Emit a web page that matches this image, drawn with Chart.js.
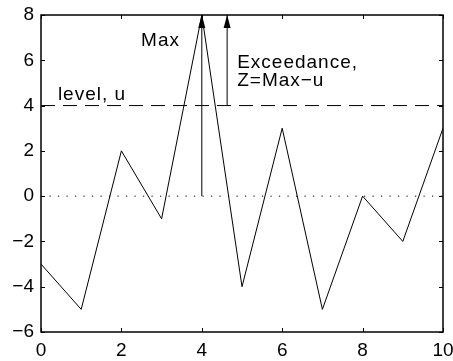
<!DOCTYPE html>
<html>
<head>
<meta charset="utf-8">
<script src="https://cdn.jsdelivr.net/npm/chart.js@4/dist/chart.umd.min.js"></script>
<style>
  body { margin: 0; background: #fff; }
  canvas { display: block; }
</style>
</head>
<body>
<canvas id="chart" width="453" height="361"></canvas>
<script>
// series
const xValues = [0, 1, 2, 3, 4, 5, 6, 7, 8, 9, 10];
const yValues = [-3, -5, 2, -1, 8, -4, 3, -5, 0, -2, 3];
const levelU = 4;
const maxX = 4;
const maxY = 8;
const exceedX = 4.63;
// axes
const xTicks = [0, 2, 4, 6, 8, 10];
const yTicks = [-6, -4, -2, 0, 2, 4, 6, 8];
// text
const labelMax = 'Max';
const labelLevel = 'level, u';
const labelExceed = ['Exceedance,', 'Z=Max\u2212u'];

const FONT = '"Liberation Sans", Arial, Helvetica, sans-serif';

function minusFmt(v) {
  return v < 0 ? '\u2212' + Math.abs(v) : String(v);
}

const framePlugin = {
  id: 'frame',
  afterDraw(chart) {
    const ctx = chart.ctx;
    const a = chart.chartArea;
    const xs = chart.scales.x, ys = chart.scales.y;
    ctx.save();
    // arrowheads
    ctx.fillStyle = '#000';
    [1, 2].forEach(i => {
      const pts = chart.getDatasetMeta(i).data;
      const p = pts[pts.length - 1];
      ctx.beginPath();
      ctx.moveTo(p.x, p.y);
      ctx.lineTo(p.x - 3.5, p.y + 13);
      ctx.lineTo(p.x + 3.5, p.y + 13);
      ctx.closePath();
      ctx.fill();
    });
    // box
    ctx.strokeStyle = '#000';
    ctx.lineWidth = 1.5;
    ctx.strokeRect(a.left, a.top, a.right - a.left, a.bottom - a.top);
    // inward ticks
    ctx.lineWidth = 1;
    ctx.beginPath();
    xTicks.forEach(v => {
      const px = Math.round(xs.getPixelForValue(v)) + 0.5;
      ctx.moveTo(px, a.bottom); ctx.lineTo(px, a.bottom - 4);
      ctx.moveTo(px, a.top); ctx.lineTo(px, a.top + 4);
    });
    yTicks.forEach(v => {
      const py = Math.round(ys.getPixelForValue(v)) + 0.5;
      ctx.moveTo(a.left, py); ctx.lineTo(a.left + 4, py);
      ctx.moveTo(a.right, py); ctx.lineTo(a.right - 4, py);
    });
    ctx.stroke();
    // annotations
    ctx.font = '19px ' + FONT;
    ctx.textBaseline = 'alphabetic';
    ctx.textAlign = 'left';
    if ('letterSpacing' in ctx) ctx.letterSpacing = '1px';
    const put = (t, x, y) => ctx.fillText(t, xs.getPixelForValue(x), ys.getPixelForValue(y));
    put(labelMax, 2.49, 6.63);
    put(labelLevel, 0.42, 4.25);
    put(labelExceed[0], 4.88, 5.66);
    put(labelExceed[1], 4.88, 4.86);
    ctx.restore();
  }
};

new Chart(document.getElementById('chart'), {
  type: 'line',
  data: {
    datasets: [
      {
        data: xValues.map((x, i) => ({ x: x, y: yValues[i] })),
        borderColor: '#000', borderWidth: 1, pointRadius: 0, tension: 0
      },
      {
        data: [{ x: maxX, y: 0 }, { x: maxX, y: maxY }],
        borderColor: '#000', borderWidth: 1, pointRadius: 0
      },
      {
        data: [{ x: exceedX, y: levelU }, { x: exceedX, y: maxY }],
        borderColor: '#000', borderWidth: 1, pointRadius: 0
      },
      {
        data: [{ x: 0, y: levelU }, { x: 10, y: levelU }],
        borderColor: '#000', borderWidth: 1, borderDash: [14, 8], pointRadius: 0
      },
      {
        data: [{ x: 0, y: 0 }, { x: 10, y: 0 }],
        borderColor: '#000', borderWidth: 1, borderDash: [1.2, 7.3], pointRadius: 0
      }
    ]
  },
  options: {
    responsive: false,
    animation: false,
    events: [],
    layout: { padding: { top: 15, right: 10, left: 0, bottom: 0 } },
    plugins: { legend: { display: false }, tooltip: { enabled: false } },
    scales: {
      x: {
        type: 'linear', min: 0, max: 10,
        afterBuildTicks: s => { s.ticks = xTicks.map(v => ({ value: v })); },
        afterFit: s => { s.height = 29; s.paddingLeft = 0; s.paddingRight = 0; },
        ticks: { color: '#000', font: { family: FONT, size: 19 }, padding: 7, maxRotation: 0, callback: minusFmt },
        grid: { display: false, drawTicks: false },
        border: { display: false }
      },
      y: {
        min: -6, max: 8,
        afterBuildTicks: s => { s.ticks = yTicks.map(v => ({ value: v })); },
        afterFit: s => { s.width = 41; s.paddingTop = 0; s.paddingBottom = 0; },
        ticks: { color: '#000', font: { family: FONT, size: 19 }, padding: 7, callback: minusFmt },
        grid: { display: false, drawTicks: false },
        border: { display: false }
      }
    }
  },
  plugins: [framePlugin]
});
</script>
</body>
</html>
